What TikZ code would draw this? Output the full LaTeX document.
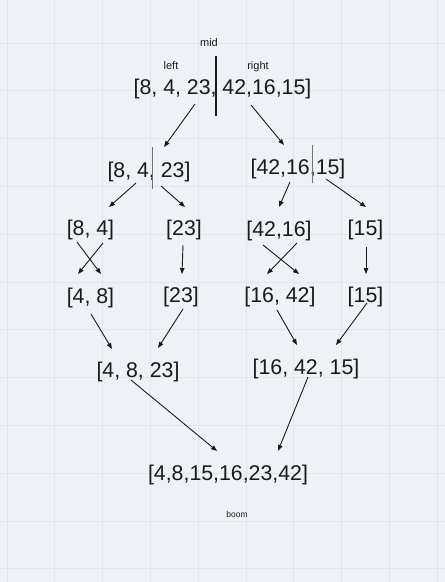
\documentclass[tikz,border=0pt]{standalone}
\usepackage{fontspec}
\setmainfont{Liberation Sans}
\usetikzlibrary{arrows.meta}
\definecolor{bgc}{HTML}{EEF1F6}
\definecolor{gridc}{HTML}{E2E6EC}
\definecolor{inkc}{HTML}{1A1A1A}
\begin{document}
\begin{tikzpicture}[x=1pt,y=-1pt,
  arr/.style={draw=inkc, line width=0.9pt, -{Triangle[length=6pt,width=4.5pt]}},
  big/.style={font=\fontsize{21.3}{25}\selectfont, inner sep=0pt, text=inkc},
  small/.style={font=\fontsize{11}{13}\selectfont, inner sep=0pt, text=inkc},
  tiny/.style={font=\fontsize{8.5}{10}\selectfont, inner sep=0pt, text=inkc}]
\fill[bgc] (0,0) rectangle (445,582);
\useasboundingbox (0,0) rectangle (445,582);
\foreach \i in {0,...,9} \draw[gridc, line width=0.8pt] ({7+47.8*\i},0) -- ++(0,582);
\foreach \j in {-1,...,11} \draw[gridc, line width=0.8pt] (0,{43+47.8*\j}) -- ++(445,0);

% labels
\node[small] (mid) at (209,42.5) {mid};
\node[small] (lft) at (171,66) {left};
\node[small] (rgt) at (258,66.5) {right};
\node[tiny] (boom) at (237,514) {boom};

% arrays
\node[big] (top) at (222.5,89) {[8, 4, 23, 42,16,15]};
\node[big] (l2a) at (149,172) {[8, 4, 23]};
\node[big] (l2b) at (298,169) {[42,16,15]};
\node[big] (l3a) at (90.5,230) {[8, 4]};
\node[big] (l3b) at (184,230) {[23]};
\node[big] (l3c) at (279,231) {[42,16]};
\node[big] (l3d) at (365.5,230) {[15]};
\node[big] (l4a) at (90.5,297.5) {[4, 8]};
\node[big] (l4b) at (181,297) {[23]};
\node[big] (l4c) at (280,297) {[16, 42]};
\node[big] (l4d) at (365.5,297) {[15]};
\node[big] (l5a) at (138,371.5) {[4, 8, 23]};
\node[big] (l5b) at (306,368.5) {[16, 42, 15]};
\node[big] (fin) at (228,474.5) {[4,8,15,16,23,42]};

% dividers
\draw[inkc, line width=1.2pt] (216,56) -- (216,116);
\draw[black!55, line width=0.7pt] (152,147) -- (152,189);
\draw[black!55, line width=0.7pt] (312,145) -- (312,183);

% connectors
\draw[arr] ([shift={(-27.5,15)}]top.center) -- ([shift={(15,-25)}]l2a.center);
\draw[arr] ([shift={(28.5,16)}]top.center) -- ([shift={(-14,-24)}]l2b.center);
\draw[arr] ([shift={(-13,11)}]l2a.center) -- ([shift={(18.5,-23)}]l3a.center);
\draw[arr] ([shift={(12,14)}]l2a.center) -- ([shift={(1,-23)}]l3b.center);
\draw[arr] ([shift={(-8,13)}]l2b.center) -- ([shift={(0,-24)}]l3c.center);
\draw[arr] ([shift={(28,10)}]l2b.center) -- ([shift={(0.5,-23)}]l3d.center);
\draw[arr] ([shift={(-13.5,12)}]l3a.center) -- ([shift={(10.5,-23.5)}]l4a.center);
\draw[arr] ([shift={(12.5,13)}]l3a.center) -- ([shift={(-12.5,-23.5)}]l4a.center);
\draw[arr] ([shift={(-1,15)}]l3b.center) -- ([shift={(1,-23)}]l4b.center);
\draw[arr] ([shift={(-16,14)}]l3c.center) -- ([shift={(19,-23)}]l4c.center);
\draw[arr] ([shift={(18,12)}]l3c.center) -- ([shift={(-13,-23)}]l4c.center);
\draw[arr] ([shift={(0.5,17)}]l3d.center) -- ([shift={(0.5,-23)}]l4d.center);
\draw[arr] ([shift={(0.5,16.5)}]l4a.center) -- ([shift={(-26,-22.5)}]l5a.center);
\draw[arr] ([shift={(2,12)}]l4b.center) -- ([shift={(20,-23.5)}]l5a.center);
\draw[arr] ([shift={(-3,13)}]l4c.center) -- ([shift={(-9,-23.5)}]l5b.center);
\draw[arr] ([shift={(1.5,6)}]l4d.center) -- ([shift={(30,-23.5)}]l5b.center);
\draw[arr] ([shift={(-7,8.5)}]l5a.center) -- ([shift={(-11,-23.5)}]fin.center);
\draw[arr] ([shift={(2,8.5)}]l5b.center) -- ([shift={(50,-23.5)}]fin.center);
\end{tikzpicture}
\end{document}
